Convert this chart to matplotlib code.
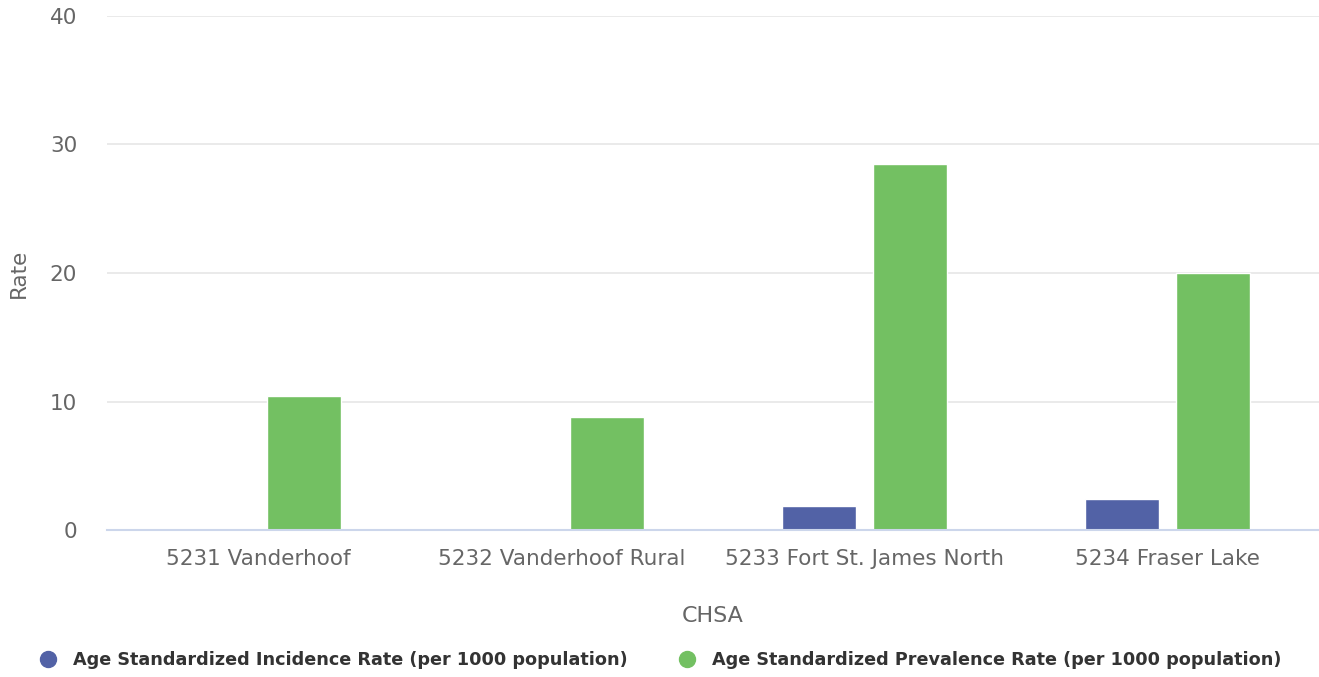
import numpy as np
import matplotlib.pyplot as plt
from matplotlib.lines import Line2D

# data
categories = ['5231 Vanderhoof', '5232 Vanderhoof Rural',
              '5233 Fort St. James North', '5234 Fraser Lake']
incidence = [0, 0, 1.85, 2.4]
prevalence = [10.4, 8.8, 28.5, 20.0]
series_names = ['Age Standardized Incidence Rate (per 1000 population)',
                'Age Standardized Prevalence Rate (per 1000 population)']
colors = ['#5262a6', '#73c062']

fig = plt.figure(figsize=(13.19, 6.77), dpi=100)
ax = fig.add_axes([107 / 1319, 1 - 530 / 677, 1 - 107 / 1319, (530 - 16) / 677])

x = np.arange(len(categories))
ax.bar(x - 0.15, incidence, width=0.245, color=colors[0], edgecolor='white', linewidth=1, zorder=3)
ax.bar(x + 0.15, prevalence, width=0.245, color=colors[1], edgecolor='white', linewidth=1, zorder=3)

ax.set_xlim(-0.5, len(categories) - 0.5)
ax.set_ylim(0, 40)
ax.set_yticks([0, 10, 20, 30, 40])
ax.set_xticks(x)
ax.set_xticklabels(categories)

ax.grid(axis='y', color='#e6e6e6', linewidth=1.2, zorder=0)
for s in ['top', 'right', 'left']:
    ax.spines[s].set_visible(False)
ax.spines['bottom'].set_color('#ccd6eb')
ax.spines['bottom'].set_linewidth(1.5)
ax.spines['bottom'].set_zorder(4)
ax.tick_params(axis='y', length=0, pad=21.5, labelsize=15.5, labelcolor='#666666')
ax.tick_params(axis='x', length=0, pad=14, labelsize=15.5, labelcolor='#666666')

ax.set_ylabel('Rate', fontsize=15.5, color='#666666')
ax.yaxis.set_label_coords((29 - 107) / 1212, 0.5)
ax.set_xlabel('CHSA', fontsize=16, color='#666666', labelpad=26)

handles = [Line2D([], [], marker='o', linestyle='', markersize=11.5, color=c) for c in colors]
fig.legend(handles, series_names, loc='center', bbox_to_anchor=(0.497, 1 - 660 / 677),
           ncol=2, frameon=False, labelcolor='#333333',
           handlelength=2.0, columnspacing=2.35, handletextpad=0.42,
           prop={'weight': 'bold', 'size': 12.7})

fig.savefig('out.png', dpi=100)
